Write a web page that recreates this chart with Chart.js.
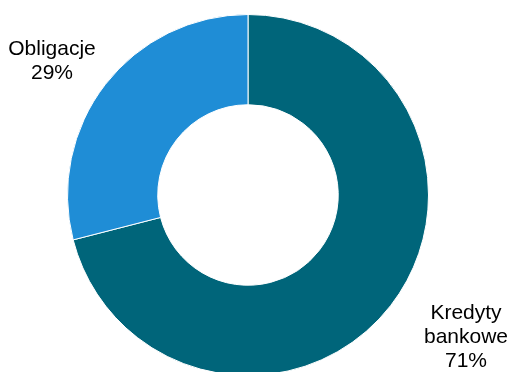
<!DOCTYPE html>
<html>
<head>
<meta charset="utf-8">
<script src="https://cdn.jsdelivr.net/npm/chart.js@4.4.0/dist/chart.umd.min.js"></script>
<style>
  html, body { margin: 0; padding: 0; background: #fff; overflow: hidden; }
  #wrap { position: absolute; left: 0; top: 0; width: 510px; height: 390px; }
</style>
</head>
<body>
<div id="wrap"><canvas id="donut"></canvas></div>
<script>
// dane
const labels = ['Kredyty bankowe', 'Obligacje'];
const values = [71, 29];
const colors = ['#00657a', '#1f8dd6'];
// etykiety tekstowe (wiersze)
const labelLines = [['Kredyty', 'bankowe', '71%'], ['Obligacje', '29%']];

// pozycja etykiety wzgledem srodka wykresu
const labelOffsets = [[218, 124], [-196, -140]];

const outsideLabels = {
  id: 'outsideLabels',
  afterDraw(chart) {
    const ctx = chart.ctx;
    const arcs = chart.getDatasetMeta(0).data;
    ctx.save();
    ctx.font = '21px "Liberation Sans", Arial, sans-serif';
    ctx.fillStyle = '#000';
    ctx.textAlign = 'center';
    ctx.textBaseline = 'alphabetic';
    arcs.forEach((arc, i) => {
      const x = arc.x + labelOffsets[i][0];
      let y = arc.y + labelOffsets[i][1];
      labelLines[i].forEach(line => {
        ctx.fillText(line, x, y);
        y += 24;
      });
    });
    ctx.restore();
  }
};

new Chart(document.getElementById('donut').getContext('2d'), {
  type: 'doughnut',
  data: {
    labels: labels,
    datasets: [{
      data: values,
      backgroundColor: colors,
      borderColor: '#ffffff',
      borderWidth: 1
    }]
  },
  options: {
    responsive: true,
    maintainAspectRatio: false,
    animation: false,
    cutout: '50%',
    layout: { padding: { top: 14, bottom: 14, left: 0, right: 14 } },
    plugins: {
      legend: { display: false },
      tooltip: { enabled: false }
    }
  },
  plugins: [outsideLabels]
});
</script>
</body>
</html>
